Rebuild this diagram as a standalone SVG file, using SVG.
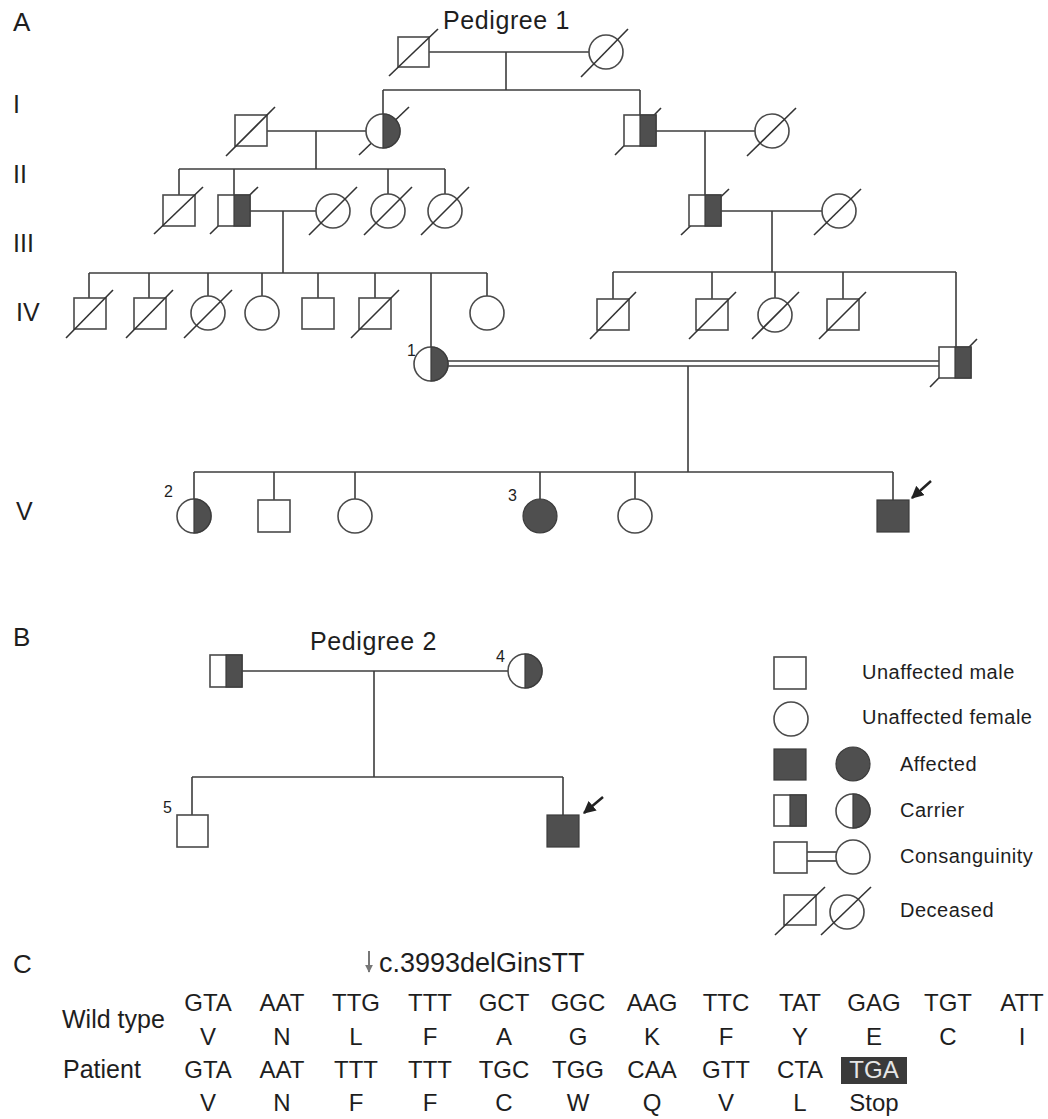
<svg xmlns="http://www.w3.org/2000/svg" width="1048" height="1119" viewBox="0 0 1048 1119">
<style>
.ln{stroke:#3c3c3c;stroke-width:1.6;fill:none}
.sym{fill:#fff;stroke:#4a4a4a;stroke-width:1.6}
.fill{fill:#4f4f4f;stroke:#3c3c3c;stroke-width:1.2}
.sl{stroke:#333;stroke-width:1.6}
.t{font-family:"Liberation Sans",Arial,sans-serif;fill:#1e1e1e}
.big{font-size:26px}
.gen{font-size:25px}
.ped{font-size:25px;letter-spacing:0.6px}
.num{font-size:16px}
.leg{font-size:20px;letter-spacing:0.5px}
.seq{font-size:24px;text-anchor:middle}
.lab{font-size:25px}
</style>
<defs>
<marker id="ah" viewBox="0 0 10 10" refX="9" refY="5" markerWidth="5" markerHeight="5" orient="auto">
<path d="M0,0 L10,5 L0,10 z" fill="#222"/>
</marker>
<marker id="ahg" viewBox="0 0 10 10" refX="9" refY="5" markerWidth="4" markerHeight="4" orient="auto">
<path d="M0,0 L10,5 L0,10 z" fill="#777"/>
</marker>
</defs>

<g id="labels">
<text class="t big" x="13" y="31">A</text>
<text class="t ped" x="443" y="29">Pedigree 1</text>
<text class="t gen" x="13" y="113">I</text>
<text class="t gen" x="13" y="183">II</text>
<text class="t gen" x="13" y="252">III</text>
<text class="t gen" x="16" y="321">IV</text>
<text class="t gen" x="16" y="520">V</text>
<text class="t big" x="13" y="646">B</text>
<text class="t ped" x="310" y="650">Pedigree 2</text>
<text class="t big" x="13" y="973">C</text>
</g>

<g id="connectors">
<line class="ln" x1="429" y1="52" x2="589" y2="52"/>
<line class="ln" x1="506" y1="52" x2="506" y2="90"/>
<line class="ln" x1="383" y1="90" x2="640" y2="90"/>
<line class="ln" x1="383" y1="90" x2="383" y2="114"/>
<line class="ln" x1="640" y1="90" x2="640" y2="115"/>
<line class="ln" x1="267" y1="131" x2="366" y2="131"/>
<line class="ln" x1="316" y1="131" x2="316" y2="169"/>
<line class="ln" x1="179" y1="169" x2="445" y2="169"/>
<line class="ln" x1="179" y1="169" x2="179" y2="195"/>
<line class="ln" x1="234" y1="169" x2="234" y2="195"/>
<line class="ln" x1="388" y1="169" x2="388" y2="194"/>
<line class="ln" x1="445" y1="169" x2="445" y2="194"/>
<line class="ln" x1="656" y1="131" x2="755" y2="131"/>
<line class="ln" x1="705" y1="131" x2="705" y2="195"/>
<line class="ln" x1="250" y1="211" x2="316" y2="211"/>
<line class="ln" x1="283" y1="211" x2="283" y2="273"/>
<line class="ln" x1="89" y1="273" x2="487" y2="273"/>
<line class="ln" x1="89" y1="273" x2="89" y2="298"/>
<line class="ln" x1="149" y1="273" x2="149" y2="298"/>
<line class="ln" x1="208" y1="273" x2="208" y2="296"/>
<line class="ln" x1="262" y1="273" x2="262" y2="296"/>
<line class="ln" x1="318" y1="273" x2="318" y2="298"/>
<line class="ln" x1="375" y1="273" x2="375" y2="298"/>
<line class="ln" x1="431" y1="273" x2="431" y2="347"/>
<line class="ln" x1="487" y1="273" x2="487" y2="296"/>
<line class="ln" x1="721" y1="211" x2="822" y2="211"/>
<line class="ln" x1="772" y1="211" x2="772" y2="272"/>
<line class="ln" x1="613" y1="272" x2="956" y2="272"/>
<line class="ln" x1="613" y1="272" x2="613" y2="299"/>
<line class="ln" x1="712" y1="272" x2="712" y2="299"/>
<line class="ln" x1="775" y1="272" x2="775" y2="298"/>
<line class="ln" x1="843" y1="272" x2="843" y2="299"/>
<line class="ln" x1="956" y1="272" x2="956" y2="347"/>
<line class="ln" x1="448" y1="361" x2="939" y2="361"/>
<line class="ln" x1="448" y1="366" x2="939" y2="366"/>
<line class="ln" x1="688" y1="366" x2="688" y2="472"/>
<line class="ln" x1="194" y1="472" x2="893" y2="472"/>
<line class="ln" x1="194" y1="472" x2="194" y2="499"/>
<line class="ln" x1="274" y1="472" x2="274" y2="500"/>
<line class="ln" x1="355" y1="472" x2="355" y2="499"/>
<line class="ln" x1="540" y1="472" x2="540" y2="499"/>
<line class="ln" x1="635" y1="472" x2="635" y2="499"/>
<line class="ln" x1="893" y1="472" x2="893" y2="500"/>
<line class="ln" x1="242" y1="671" x2="508" y2="671"/>
<line class="ln" x1="374" y1="671" x2="374" y2="777"/>
<line class="ln" x1="192" y1="777" x2="563" y2="777"/>
<line class="ln" x1="192" y1="777" x2="192" y2="815"/>
<line class="ln" x1="563" y1="777" x2="563" y2="815"/>
<line x1="931" y1="481" x2="912" y2="498" stroke="#222" stroke-width="2.5" marker-end="url(#ah)"/>
<line x1="603" y1="797" x2="584" y2="813" stroke="#222" stroke-width="2.5" marker-end="url(#ah)"/>
</g>

<g id="I-1"><rect class="sym" x="398" y="37" width="31" height="30"/><line class="sl" x1="389" y1="76" x2="438" y2="29"/></g>
<g id="I-2"><circle class="sym" cx="606" cy="52" r="17"/><line class="sl" x1="581" y1="77" x2="628" y2="29"/></g>

<g id="II-1"><rect class="sym" x="235" y="115" width="32" height="31"/><line class="sl" x1="226" y1="156" x2="275" y2="107"/></g>
<g id="II-2"><line class="sl" x1="359" y1="155" x2="409" y2="107"/><circle class="sym" cx="383" cy="131" r="17"/><path class="fill" d="M383,114 A17,17 0 0 1 383,148 Z"/></g>
<g id="II-3"><line class="sl" x1="615" y1="155" x2="661" y2="108"/><rect class="sym" x="624" y="115" width="32" height="31"/><rect class="fill" x="640" y="115" width="16" height="31"/></g>
<g id="II-4"><circle class="sym" cx="772" cy="131" r="17"/><line class="sl" x1="747" y1="156" x2="796" y2="108"/></g>

<g id="III-1"><rect class="sym" x="163" y="195" width="32" height="31"/><line class="sl" x1="154" y1="234" x2="203" y2="187"/></g>
<g id="III-2"><line class="sl" x1="210" y1="234" x2="258" y2="187"/><rect class="sym" x="218" y="195" width="32" height="31"/><rect class="fill" x="234" y="195" width="16" height="31"/></g>
<g id="III-3"><circle class="sym" cx="333" cy="211" r="17"/><line class="sl" x1="309" y1="235" x2="357" y2="187"/></g>
<g id="III-4"><circle class="sym" cx="388" cy="211" r="17"/><line class="sl" x1="364" y1="235" x2="412" y2="187"/></g>
<g id="III-5"><circle class="sym" cx="445" cy="211" r="17"/><line class="sl" x1="421" y1="235" x2="469" y2="187"/></g>
<g id="III-6"><line class="sl" x1="681" y1="235" x2="729" y2="189"/><rect class="sym" x="689" y="195" width="32" height="31"/><rect class="fill" x="705" y="195" width="16" height="31"/></g>
<g id="III-7"><circle class="sym" cx="839" cy="211" r="17"/><line class="sl" x1="814" y1="235" x2="861" y2="189"/></g>

<g id="IV-1"><rect class="sym" x="74" y="298" width="32" height="31"/><line class="sl" x1="66" y1="338" x2="113" y2="290"/></g>
<g id="IV-2"><rect class="sym" x="134" y="298" width="32" height="31"/><line class="sl" x1="126" y1="338" x2="173" y2="290"/></g>
<g id="IV-3"><circle class="sym" cx="208" cy="313" r="17"/><line class="sl" x1="184" y1="338" x2="232" y2="290"/></g>
<g id="IV-4"><circle class="sym" cx="262" cy="313" r="17"/></g>
<g id="IV-5"><rect class="sym" x="302" y="298" width="32" height="31"/></g>
<g id="IV-6"><rect class="sym" x="359" y="298" width="32" height="31"/><line class="sl" x1="351" y1="338" x2="399" y2="290"/></g>
<g id="IV-7"><circle class="sym" cx="431" cy="364" r="17"/><path class="fill" d="M431,347 A17,17 0 0 1 431,381 Z"/><text class="t num" x="407" y="356">1</text></g>
<g id="IV-8"><circle class="sym" cx="487" cy="313" r="17"/></g>
<g id="IV-9"><rect class="sym" x="597" y="299" width="32" height="31"/><line class="sl" x1="590" y1="339" x2="636" y2="292"/></g>
<g id="IV-10"><rect class="sym" x="696" y="299" width="32" height="31"/><line class="sl" x1="689" y1="339" x2="736" y2="292"/></g>
<g id="IV-11"><circle class="sym" cx="775" cy="315" r="17"/><line class="sl" x1="752" y1="339" x2="799" y2="292"/></g>
<g id="IV-12"><rect class="sym" x="827" y="299" width="32" height="31"/><line class="sl" x1="819" y1="339" x2="866" y2="292"/></g>
<g id="IV-13"><line class="sl" x1="930" y1="387" x2="977" y2="339"/><rect class="sym" x="939" y="347" width="32" height="31"/><rect class="fill" x="955" y="347" width="16" height="31"/></g>

<g id="V-1"><circle class="sym" cx="194" cy="516" r="17"/><path class="fill" d="M194,499 A17,17 0 0 1 194,533 Z"/><text class="t num" x="164" y="497">2</text></g>
<g id="V-2"><rect class="sym" x="258" y="500" width="32" height="32"/></g>
<g id="V-3"><circle class="sym" cx="355" cy="516" r="17"/></g>
<g id="V-4"><circle class="fill" cx="540" cy="516" r="17"/><text class="t num" x="508" y="501">3</text></g>
<g id="V-5"><circle class="sym" cx="635" cy="516" r="17"/></g>
<g id="V-6"><rect class="fill" x="877" y="500" width="32" height="32"/></g>

<g id="P2-father"><rect class="sym" x="210" y="655" width="32" height="32"/><rect class="fill" x="226" y="655" width="16" height="32"/></g>
<g id="P2-mother"><circle class="sym" cx="525" cy="671" r="17"/><path class="fill" d="M525,654 A17,17 0 0 1 525,688 Z"/><text class="t num" x="496" y="662">4</text></g>
<g id="P2-son5"><rect class="sym" x="177" y="815" width="31" height="32"/><text class="t num" x="163" y="813">5</text></g>
<g id="P2-proband"><rect class="fill" x="547" y="815" width="32" height="32"/></g>

<g id="legend">
<rect class="sym" x="774" y="657" width="32" height="32"/>
<text class="t leg" x="862" y="679">Unaffected male</text>
<circle class="sym" cx="791" cy="719" r="17"/>
<text class="t leg" x="862" y="724">Unaffected female</text>
<rect class="fill" x="774" y="749" width="32" height="31"/>
<circle class="fill" cx="853" cy="764" r="17"/>
<text class="t leg" x="900" y="771">Affected</text>
<rect class="sym" x="774" y="795" width="32" height="31"/>
<rect class="fill" x="790" y="795" width="16" height="31"/>
<circle class="sym" cx="853" cy="811" r="17"/>
<path class="fill" d="M853,794 A17,17 0 0 1 853,828 Z"/>
<text class="t leg" x="900" y="817">Carrier</text>
<line class="ln" x1="807" y1="852" x2="837" y2="852"/>
<line class="ln" x1="807" y1="861" x2="837" y2="861"/>
<rect class="sym" x="774" y="842" width="33" height="31"/>
<circle class="sym" cx="853" cy="857" r="17"/>
<text class="t leg" x="900" y="863">Consanguinity</text>
<rect class="sym" x="784" y="895" width="32" height="30"/>
<line class="sl" x1="775" y1="935" x2="825" y2="887"/>
<circle class="sym" cx="847" cy="912" r="17"/>
<line class="sl" x1="821" y1="935" x2="871" y2="887"/>
<text class="t leg" x="900" y="917">Deceased</text>
</g>

<g id="sequence">
<line x1="369" y1="951" x2="369" y2="972" stroke="#777" stroke-width="2" marker-end="url(#ahg)"/>
<text class="t" x="379" y="972" font-size="27">c.3993delGinsTT</text>
<text class="t lab" x="62" y="1028">Wild type</text>
<text class="t lab" x="63" y="1078">Patient</text>
<g class="t seq">
<text x="208" y="1011">GTA</text><text x="282" y="1011">AAT</text><text x="356" y="1011">TTG</text><text x="430" y="1011">TTT</text><text x="504" y="1011">GCT</text><text x="578" y="1011">GGC</text><text x="652" y="1011">AAG</text><text x="726" y="1011">TTC</text><text x="800" y="1011">TAT</text><text x="874" y="1011">GAG</text><text x="948" y="1011">TGT</text><text x="1022" y="1011">ATT</text>
<text x="208" y="1045">V</text><text x="282" y="1045">N</text><text x="356" y="1045">L</text><text x="430" y="1045">F</text><text x="504" y="1045">A</text><text x="578" y="1045">G</text><text x="652" y="1045">K</text><text x="726" y="1045">F</text><text x="800" y="1045">Y</text><text x="874" y="1045">E</text><text x="948" y="1045">C</text><text x="1022" y="1045">I</text>
<text x="208" y="1078">GTA</text><text x="282" y="1078">AAT</text><text x="356" y="1078">TTT</text><text x="430" y="1078">TTT</text><text x="504" y="1078">TGC</text><text x="578" y="1078">TGG</text><text x="652" y="1078">CAA</text><text x="726" y="1078">GTT</text><text x="800" y="1078">CTA</text>
<text x="208" y="1111">V</text><text x="282" y="1111">N</text><text x="356" y="1111">F</text><text x="430" y="1111">F</text><text x="504" y="1111">C</text><text x="578" y="1111">W</text><text x="652" y="1111">Q</text><text x="726" y="1111">V</text><text x="800" y="1111">L</text><text x="874" y="1111">Stop</text>
</g>
<rect x="841" y="1057" width="66" height="27" fill="#3a3a3a"/>
<text class="t seq" x="874" y="1078" style="fill:#e6e6e6">TGA</text>
</g>
</svg>
